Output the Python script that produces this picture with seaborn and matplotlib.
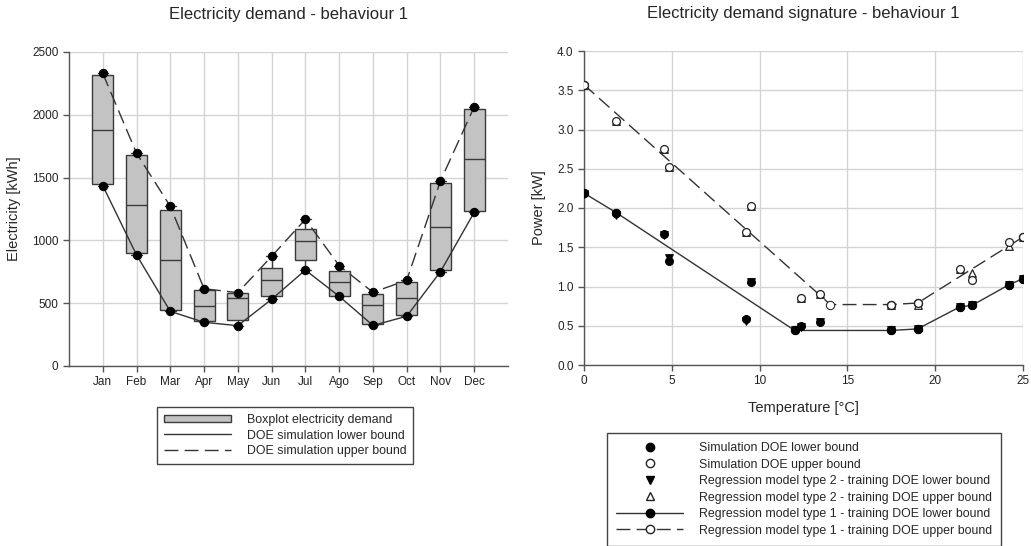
import numpy as np
import pandas as pd
import matplotlib
matplotlib.use("Agg")
import matplotlib.pyplot as plt
import seaborn as sns
from matplotlib.lines import Line2D
from matplotlib.patches import Patch

# ---------------- data: left chart (monthly electricity, kWh) ----------------
months = ["Jan", "Feb", "Mar", "Apr", "May", "Jun", "Jul", "Ago", "Sep", "Oct", "Nov", "Dec"]
doe_lower = [1436, 884, 435, 348, 321, 531, 764, 555, 323, 396, 751, 1224]
box_q1 = [1449, 897, 448, 358, 365, 554, 846, 560, 337, 403, 767, 1237]
box_median = [1879, 1284, 846, 478, 545, 682, 998, 666, 483, 539, 1104, 1645]
box_q3 = [2317, 1682, 1244, 605, 579, 783, 1093, 759, 571, 666, 1454, 2046]
doe_upper = [2330, 1694, 1271, 615, 584, 873, 1168, 799, 587, 682, 1473, 2064]

# ---------------- data: right chart (power signature, kW vs °C) ----------------
sim_low_t = [0.0, 1.84, 4.54, 4.84, 9.24, 9.53, 12.0, 12.34, 13.42, 17.5, 19.0, 21.4, 22.1, 24.18, 25.0]
sim_low_p = [2.19, 1.94, 1.67, 1.33, 0.59, 1.06, 0.44, 0.50, 0.55, 0.44, 0.46, 0.74, 0.76, 1.02, 1.10]
sim_up_t = [0.0, 1.84, 4.54, 4.84, 9.24, 9.53, 12.34, 13.42, 17.5, 19.0, 21.4, 22.1, 24.18, 25.0]
sim_up_p = [3.57, 3.11, 2.75, 2.52, 1.70, 2.03, 0.85, 0.90, 0.77, 0.79, 1.22, 1.08, 1.57, 1.63]
reg2_low_t = [0.0, 1.84, 4.54, 4.84, 9.24, 9.53, 12.0, 12.34, 13.42, 17.5, 19.0, 21.4, 22.1, 24.18, 25.0]
reg2_low_p = [2.18, 1.91, 1.66, 1.36, 0.56, 1.06, 0.45, 0.49, 0.55, 0.44, 0.46, 0.74, 0.76, 1.02, 1.10]
reg2_up_t = [0.0, 1.84, 4.54, 4.84, 9.24, 9.53, 12.34, 13.42, 17.5, 19.0, 21.4, 22.1, 24.18, 25.0]
reg2_up_p = [3.57, 3.11, 2.75, 2.52, 1.70, 2.03, 0.85, 0.90, 0.77, 0.76, 1.22, 1.17, 1.51, 1.63]
reg1_low_t = [0.0, 1.84, 12.0, 17.5, 19.0, 21.4, 22.1, 24.18, 25.0]
reg1_low_p = [2.19, 1.94, 0.44, 0.44, 0.46, 0.74, 0.76, 1.02, 1.10]
reg1_up_t = [0.0, 14.03, 17.5, 19.0, 25.0]
reg1_up_p = [3.57, 0.77, 0.77, 0.79, 1.63]

# ---------------- style ----------------
sns.set_theme(style="whitegrid")
plt.rcParams["font.family"] = ["Liberation Sans", "DejaVu Sans"]
plt.rcParams.update({
    "grid.color": "#d4d4d4",
    "grid.linewidth": 1.0,
    "axes.edgecolor": "#555555",
    "axes.linewidth": 1.0,
    "xtick.bottom": True,
    "ytick.left": True,
    "xtick.major.size": 4,
    "ytick.major.size": 4,
    "xtick.major.width": 1,
    "ytick.major.width": 1,
    "xtick.color": "#555555",
    "ytick.color": "#555555",
    "xtick.labelcolor": "#222222",
    "ytick.labelcolor": "#222222",
    "xtick.labelsize": 8.5,
    "ytick.labelsize": 8.5,
})

W, H = 1031, 546
fig = plt.figure(figsize=(W / 100, H / 100), dpi=100)
ax1 = fig.add_axes([69 / W, 1 - 366 / H, (508 - 69) / W, (366 - 52) / H])
ax2 = fig.add_axes([584 / W, 1 - 365 / H, (1023 - 584) / W, (365 - 51) / H])

line_c = "#333333"
dash = (0, (10, 4.5))

# ---------------- left chart ----------------
box_df = pd.DataFrame({
    "month": np.repeat(months, 5),
    "kwh": np.column_stack([doe_lower, box_q1, box_median, box_q3, doe_upper]).ravel(),
})
sns.boxplot(data=box_df, x="month", y="kwh", order=months, width=0.62,
            whis=(0, 100), color="#c3c3c3", saturation=1, linecolor="#3a3a3a",
            linewidth=1, ax=ax1, zorder=2)
sns.lineplot(x=months, y=doe_lower, sort=False, color=line_c, lw=1,
             marker="o", markersize=6, markerfacecolor="black",
             markeredgecolor="black", ax=ax1, zorder=3)
sns.lineplot(x=months, y=doe_upper, sort=False, color=line_c, lw=1,
             linestyle=dash, marker="o", markersize=6,
             markerfacecolor="black", markeredgecolor="black", ax=ax1, zorder=3)
ax1.set_xlim(-1, 12)
ax1.set_ylim(0, 2500)
ax1.set_yticks([0, 500, 1000, 1500, 2000, 2500])
ax1.set_xlabel("")
ax1.set_ylabel("Electricity [kWh]", fontsize=10.5, labelpad=8)
ax1.set_title("Electricity demand - behaviour 1", fontsize=12, pad=24)
ax1.grid(True, axis="both")
for s in ["top", "right"]:
    ax1.spines[s].set_visible(False)

h1 = [
    Patch(facecolor="#c3c3c3", edgecolor="#3a3a3a", linewidth=1),
    Line2D([], [], color=line_c, lw=1),
    Line2D([], [], color=line_c, lw=1, linestyle=dash),
]
l1 = ["Boxplot electricity demand", "DOE simulation lower bound", "DOE simulation upper bound"]
leg1 = fig.legend(h1, l1, loc="upper left", bbox_to_anchor=(157 / W, 1 - 407 / H),
                  fontsize=8.9, handlelength=5.4, handleheight=0.55, labelspacing=0.3,
                  handletextpad=1.3, borderpad=0.55, fancybox=False, frameon=True,
                  edgecolor="#444444", framealpha=1, borderaxespad=0)
leg1.get_frame().set_linewidth(1)

# ---------------- right chart ----------------
sns.lineplot(x=reg1_low_t, y=reg1_low_p, sort=False, color=line_c, lw=1,
             marker="o", markersize=6, markerfacecolor="black",
             markeredgecolor="black", ax=ax2, zorder=3)
sns.lineplot(x=reg1_up_t, y=reg1_up_p, sort=False, color=line_c, lw=1,
             linestyle=dash, marker="o", markersize=6, markerfacecolor="white",
             markeredgecolor="#222222", ax=ax2, zorder=3)
sns.scatterplot(x=reg2_low_t, y=reg2_low_p, marker="v", s=30, color="black",
                edgecolor="black", linewidth=0.8, ax=ax2, zorder=4)
sns.scatterplot(x=reg2_up_t, y=reg2_up_p, marker="^", s=30, facecolor="white",
                edgecolor="#222222", linewidth=0.9, ax=ax2, zorder=4)
sns.scatterplot(x=sim_low_t, y=sim_low_p, marker="o", s=32, color="black",
                edgecolor="black", linewidth=0.8, ax=ax2, zorder=5)
sns.scatterplot(x=sim_up_t, y=sim_up_p, marker="o", s=32, facecolor="white",
                edgecolor="#222222", linewidth=0.9, ax=ax2, zorder=5)
ax2.set_xlim(0, 25)
ax2.set_ylim(0, 4)
ax2.set_xticks([0, 5, 10, 15, 20, 25])
ax2.set_yticks(np.arange(0, 4.01, 0.5))
ax2.yaxis.set_major_formatter(matplotlib.ticker.FormatStrFormatter("%.1f"))
ax2.set_xlabel("Temperature [°C]", fontsize=10.5, labelpad=10)
ax2.set_ylabel("Power [kW]", fontsize=10.5, labelpad=8)
ax2.set_title("Electricity demand signature - behaviour 1", fontsize=12, pad=24)
ax2.grid(True, axis="both")
for s in ["top", "right"]:
    ax2.spines[s].set_visible(False)

h2 = [
    Line2D([], [], linestyle="none", marker="o", markersize=6, color="black"),
    Line2D([], [], linestyle="none", marker="o", markersize=6, markerfacecolor="white",
           markeredgecolor="#222222"),
    Line2D([], [], linestyle="none", marker="v", markersize=5.5, color="black"),
    Line2D([], [], linestyle="none", marker="^", markersize=5.5, markerfacecolor="white",
           markeredgecolor="#222222"),
    Line2D([], [], color=line_c, lw=1, marker="o", markersize=6, markerfacecolor="black",
           markeredgecolor="black"),
    Line2D([], [], color=line_c, lw=1, linestyle=dash, marker="o", markersize=6,
           markerfacecolor="white", markeredgecolor="#222222"),
]
l2 = [
    "Simulation DOE lower bound",
    "Simulation DOE upper bound",
    "Regression model type 2 - training DOE lower bound",
    "Regression model type 2 - training DOE upper bound",
    "Regression model type 1 - training DOE lower bound",
    "Regression model type 1 - training DOE upper bound",
]
leg2 = fig.legend(h2, l2, loc="upper left", bbox_to_anchor=(607 / W, 1 - 433 / H),
                  fontsize=8.9, handlelength=5.4, labelspacing=0.36, numpoints=1,
                  handletextpad=1.3, borderpad=0.75, fancybox=False, frameon=True,
                  edgecolor="#444444", framealpha=1, borderaxespad=0)
leg2.get_frame().set_linewidth(1)

fig.savefig("out.png", dpi=100, facecolor="white")
